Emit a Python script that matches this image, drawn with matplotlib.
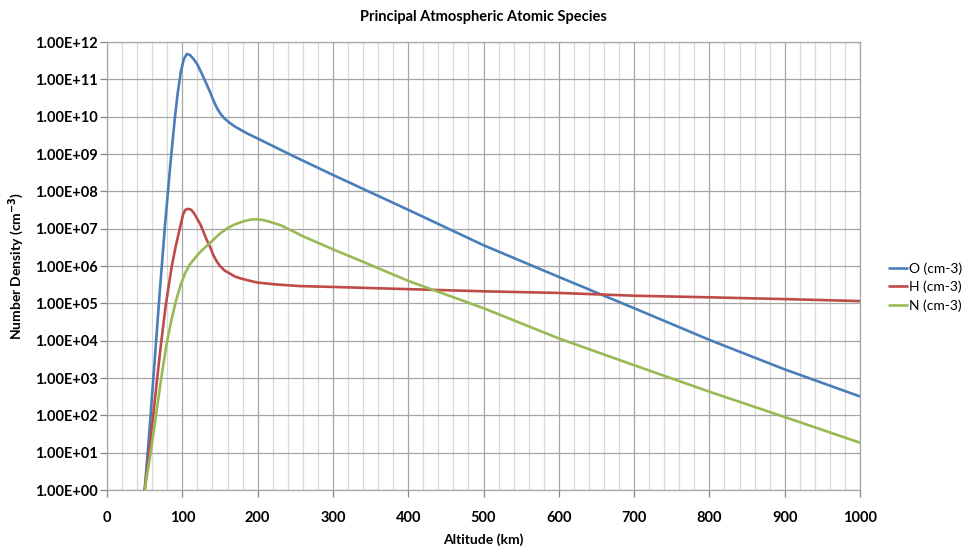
import matplotlib
matplotlib.use("Agg")
import matplotlib.pyplot as plt
from matplotlib.ticker import FixedLocator, MultipleLocator, FuncFormatter

# values (altitude in km, density in cm^-3)
o_alt = [50, 56, 63, 70, 77, 84, 90, 94, 98, 102, 106, 110, 115, 120, 126,
         132, 137, 141, 146, 150, 156, 163, 170, 177, 188, 200, 250, 300, 400,
         500, 600, 700, 800, 900, 1000]
o_dens = [1, 3.2e1, 2.5e3, 2e5, 1.25e7, 5e8, 9e9, 4.5e10, 1.6e11, 3.5e11, 4.8e11,
          4.5e11, 3.5e11, 2.5e11, 1.4e11, 7.6e10, 4.5e10, 2.8e10, 1.7e10,
          1.25e10, 8.9e9, 6.8e9, 5.4e9, 4.5e9, 3.4e9, 2.6e9, 8.3e8, 2.75e8,
          3.2e7, 3.6e6, 5.1e5, 7.4e4, 1.05e4, 1.7e3, 3.2e2]

h_alt = [50, 57, 64, 71, 78, 86, 91, 97, 101, 104, 108, 112, 116, 120, 124, 128,
         132, 137, 141, 145, 150, 156, 163, 170, 180, 190, 200, 225, 256, 300,
         400, 500, 600, 700, 800, 900, 1000]
h_dens = [1, 1.6e1, 3.2e2, 6.3e3, 9e4, 1e6, 3.2e6, 1.1e7, 2.4e7, 3.2e7, 3.4e7,
          3.2e7, 2.5e7, 1.8e7, 1.3e7, 8.3e6, 5.2e6, 3.2e6, 2e6, 1.4e6, 1e6,
          7.6e5, 6.3e5, 5.2e5, 4.5e5, 4e5, 3.6e5, 3.2e5, 2.9e5, 2.75e5, 2.4e5,
          2.1e5, 1.9e5, 1.6e5, 1.45e5, 1.3e5, 1.15e5]

n_alt = [50, 58, 65, 72, 79, 86, 92, 98, 104, 110, 117, 124, 132, 141, 150, 159,
         168, 180, 190, 197, 205, 215, 230, 245, 260, 280, 300, 336, 400, 500,
         600, 700, 800, 900, 1000]
n_dens = [1, 1e1, 1e2, 1e3, 8e3, 4e4, 1.25e5, 3.2e5, 6.6e5, 1.1e6, 1.65e6,
          2.4e6, 3.4e6, 5e6, 7.4e6, 1e7, 1.26e7, 1.55e7, 1.74e7, 1.78e7,
          1.74e7, 1.55e7, 1.25e7, 8.9e6, 6.3e6, 4.2e6, 2.8e6, 1.4e6, 4e5,
          7.4e4, 1.15e4, 2.2e3, 4.3e2, 9e1, 1.85e1]

series = [
    ("O (cm-3)", o_alt, o_dens, "#4a7ebb"),
    ("H (cm-3)", h_alt, h_dens, "#be4b48"),
    ("N (cm-3)", n_alt, n_dens, "#98b954"),
]

y_ticks = [10.0 ** k for k in range(0, 13)]

plt.rcParams["font.family"] = ["Lato", "DejaVu Sans"]
plt.rcParams["font.weight"] = "bold"
plt.rcParams["mathtext.default"] = "bf"

fig = plt.figure(figsize=(9.66, 5.52), dpi=100)
ax = fig.add_axes([0.1108, 0.1123, 0.7795, 0.8116])

for label, alt, dens, color in series:
    ax.plot(alt, dens, color=color, lw=1.9, label=label,
            solid_joinstyle="round", solid_capstyle="butt", zorder=3)

ax.set_yscale("log")
ax.set_xlim(0, 1000)
ax.set_ylim(1, 1e12)

ax.xaxis.set_major_locator(MultipleLocator(100))
ax.xaxis.set_minor_locator(MultipleLocator(20))
ax.yaxis.set_major_locator(FixedLocator(y_ticks))
ax.yaxis.set_minor_locator(FixedLocator([]))
ax.yaxis.set_major_formatter(FuncFormatter(lambda v, p: f"{v:.2E}"))

ax.grid(which="minor", axis="x", color="#d9d9d9", lw=0.9, zorder=0)
ax.grid(which="major", axis="x", color="#a6a6a6", lw=0.9, zorder=1)
ax.grid(which="major", axis="y", color="#a6a6a6", lw=0.9, zorder=1)
ax.set_axisbelow(True)

for s in ax.spines.values():
    s.set_color("#a6a6a6")
    s.set_linewidth(0.9)

ax.tick_params(which="major", length=5, width=0.9, color="#868686",
               labelsize=10.5)
ax.tick_params(axis="y", pad=2)
ax.tick_params(axis="x", pad=10)
ax.tick_params(which="minor", length=0)

ax.set_xlabel("Altitude (km)", fontsize=10, fontweight="bold", labelpad=6)
ax.set_ylabel("Number Density (cm$^{-3}$)", fontsize=10,
              fontweight="bold", labelpad=6)
ax.set_title("Principal Atmospheric Atomic Species", fontsize=10.5,
             fontweight="bold", pad=15)

fig.legend(loc="center left", bbox_to_anchor=(0.916, 0.48), frameon=False,
           prop={"size": 10, "weight": "normal"}, handlelength=1.5,
           handletextpad=0.05, labelspacing=0.45, borderpad=0.2,
           borderaxespad=0.0)

fig.savefig("out.png", dpi=100)
